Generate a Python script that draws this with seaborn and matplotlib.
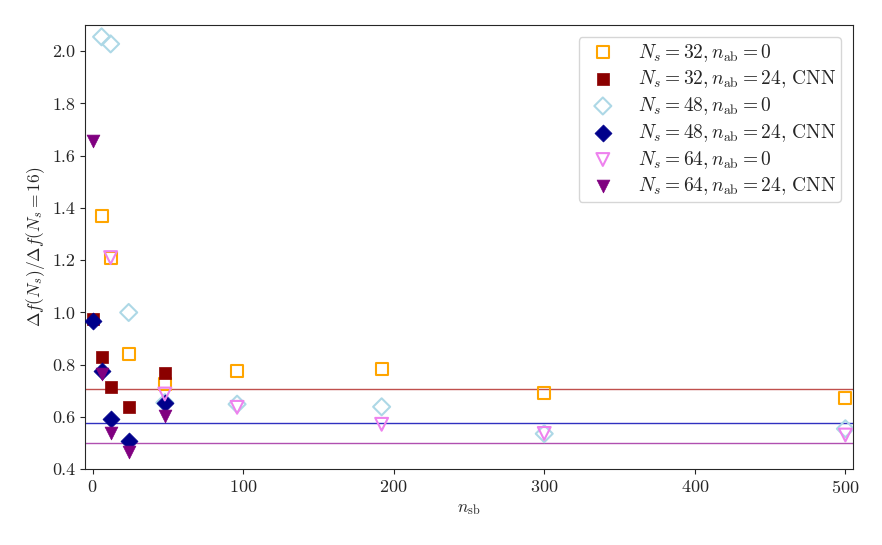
import numpy as np
import matplotlib
matplotlib.use("Agg")
import matplotlib.pyplot as plt
import seaborn as sns

# n_sb values and ratio Delta f(Ns) / Delta f(Ns=16)
x_32_0 = [6, 12, 24, 48, 96, 192, 300, 500]
y_32_0 = [1.37, 1.21, 0.84, 0.725, 0.777, 0.783, 0.692, 0.674]

x_32_cnn = [0, 6, 12, 24, 48]
y_32_cnn = [0.975, 0.83, 0.713, 0.638, 0.77]

x_48_0 = [6, 12, 24, 48, 96, 192, 300, 500]
y_48_0 = [2.055, 2.028, 1.0, 0.655, 0.649, 0.639, 0.536, 0.555]

x_48_cnn = [0, 6, 12, 24, 48]
y_48_cnn = [0.969, 0.777, 0.594, 0.51, 0.652]

x_64_0 = [12, 48, 96, 192, 300, 500]
y_64_0 = [1.21, 0.688, 0.637, 0.572, 0.537, 0.531]

x_64_cnn = [0, 6, 12, 24, 48]
y_64_cnn = [1.655, 0.765, 0.54, 0.465, 0.605]

# expected scaling sqrt(16 / Ns)
ns_ref = [32, 48, 64]
ref_colors = ["#c0504d", "#3030c0", "#b050b0"]

sns.set_style("ticks")
plt.rcParams["font.family"] = ["cmr10"]
plt.rcParams["mathtext.fontset"] = "cm"
plt.rcParams["axes.formatter.use_mathtext"] = True

fig, ax = plt.subplots(figsize=(8.82, 5.45), dpi=100)
fig.subplots_adjust(left=0.0964, right=0.967, top=0.954, bottom=0.139)

for ns, c in zip(ns_ref, ref_colors):
    ax.axhline(np.sqrt(16 / ns), color=c, lw=1, zorder=1)

sns.scatterplot(x=x_32_0, y=y_32_0, marker="s", s=75, facecolor="none",
                edgecolor="orange", linewidth=1.5, ax=ax,
                label=r"$N_s = 32, n_{\rm ab} = 0$", zorder=3)
sns.scatterplot(x=x_32_cnn, y=y_32_cnn, marker="s", s=75, color="darkred",
                edgecolor="darkred", linewidth=0.5, ax=ax,
                label=r"$N_s = 32, n_{\rm ab} = 24$, CNN", zorder=3)
sns.scatterplot(x=x_48_0, y=y_48_0, marker="D", s=75, facecolor="none",
                edgecolor="lightblue", linewidth=1.5, ax=ax,
                label=r"$N_s = 48, n_{\rm ab} = 0$", zorder=3)
sns.scatterplot(x=x_48_cnn, y=y_48_cnn, marker="D", s=75, color="darkblue",
                edgecolor="darkblue", linewidth=0.5, ax=ax,
                label=r"$N_s = 48, n_{\rm ab} = 24$, CNN", zorder=3)
sns.scatterplot(x=x_64_0, y=y_64_0, marker="v", s=85, facecolor="none",
                edgecolor="violet", linewidth=1.5, ax=ax,
                label=r"$N_s = 64, n_{\rm ab} = 0$", zorder=3)
sns.scatterplot(x=x_64_cnn, y=y_64_cnn, marker="v", s=85, color="purple",
                edgecolor="purple", linewidth=0.5, ax=ax,
                label=r"$N_s = 64, n_{\rm ab} = 24$, CNN", zorder=3)

ax.set_xlim(-5, 505)
ax.set_ylim(0.4, 2.1)
ax.set_xticks([0, 100, 200, 300, 400, 500])
ax.set_yticks(np.arange(0.4, 2.01, 0.2))
ax.yaxis.set_major_formatter(matplotlib.ticker.FormatStrFormatter("%.1f"))
ax.tick_params(labelsize=13)
ax.set_xlabel(r"$n_{\rm sb}$", fontsize=12.5)
ax.set_ylabel(r"$\Delta f(N_s)/\Delta f(N_s = 16)$", fontsize=12.5)
ax.legend(loc="upper right", fontsize=14, labelspacing=0.25,
          borderpad=0.25, borderaxespad=0.6)

fig.savefig("out.png", dpi=100)
